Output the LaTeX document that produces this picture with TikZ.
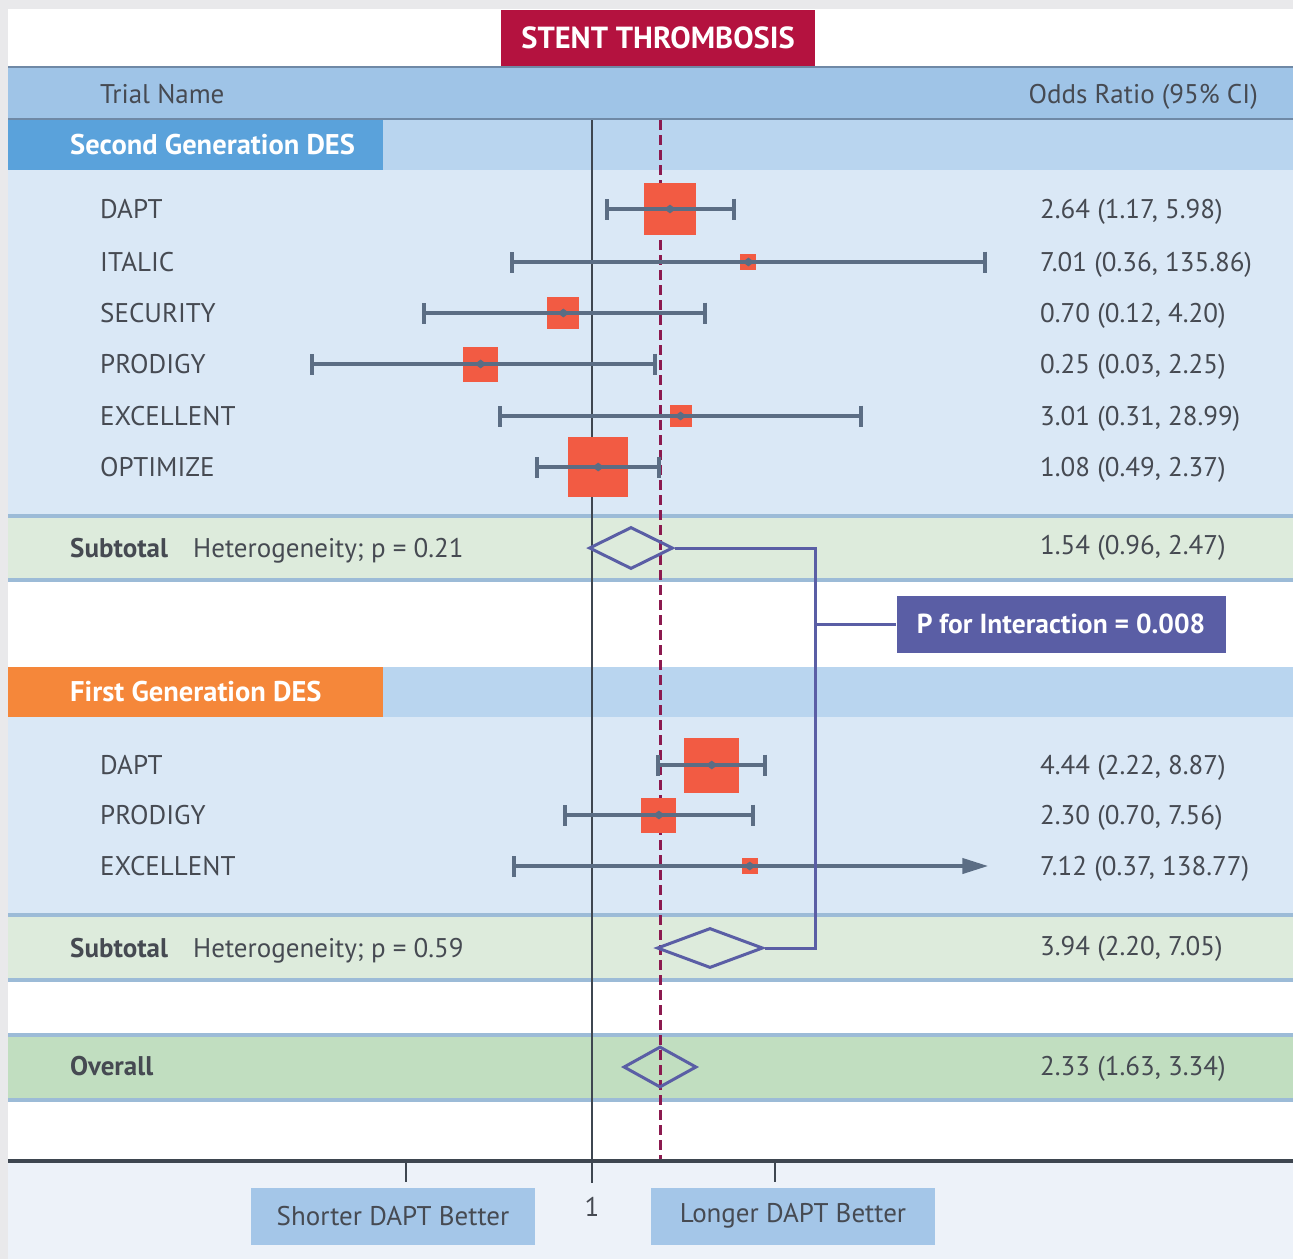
\documentclass[tikz,border=0pt]{standalone}
\usepackage{fontspec}
\setmainfont{PT Sans}
\setsansfont{PT Sans}
\usetikzlibrary{arrows.meta,positioning,calc,shapes.geometric}
\definecolor{framegray}{HTML}{E9E9EB}
\definecolor{titlered}{HTML}{B4123F}
\definecolor{hdrblue}{HTML}{9FC4E7}
\definecolor{hdrline}{HTML}{6F89A6}
\definecolor{secband}{HTML}{B9D5EF}
\definecolor{secblue}{HTML}{5AA2DB}
\definecolor{secorange}{HTML}{F5873A}
\definecolor{rowblue}{HTML}{DAE8F6}
\definecolor{subgreen}{HTML}{DDEBDC}
\definecolor{overgreen}{HTML}{C1DEC0}
\definecolor{bandline}{HTML}{9CBBD7}
\definecolor{footblue}{HTML}{EDF2F9}
\definecolor{footbox}{HTML}{A4C6E8}
\definecolor{inkgray}{HTML}{464A52}
\definecolor{cigray}{HTML}{5B6D84}
\definecolor{markred}{HTML}{F25B43}
\definecolor{sumviolet}{HTML}{5A5EA5}
\definecolor{refline}{HTML}{3E4650}
\definecolor{dashred}{HTML}{8C1A4F}

\begin{document}
\begin{tikzpicture}[
  x=1pt, y=-1pt,
  font=\fontsize{27}{31}\selectfont,
  txt/.style   = {inner sep=0pt, text height=0.7em, text depth=0pt, text=inkgray, yshift=-6pt},
  trial/.style = {txt, anchor=west},
  val/.style   = {txt, anchor=west},
  seclbl/.style= {txt, anchor=west, text=white, font=\fontsize{28.5}{32}\selectfont\bfseries},
  sublbl/.style= {txt, anchor=west, font=\fontsize{27}{31}\selectfont\bfseries},
  title/.style = {fill=titlered, text=white, minimum width=314, minimum height=56,
                  inner sep=0pt, font=\fontsize{30.5}{33}\selectfont\bfseries},
  pbox/.style  = {fill=sumviolet, text=white, minimum width=329, minimum height=57,
                  inner sep=0pt, font=\fontsize{27.5}{31}\selectfont\bfseries},
  fbox/.style  = {fill=footbox, text=inkgray, minimum width=284, minimum height=57,
                  inner sep=0pt},
  sq/.style    = {fill=markred, inner sep=0pt},
  dot/.style   = {diamond, fill=cigray, inner sep=0pt, minimum width=12, minimum height=9},
  dmd/.style   = {diamond, draw=sumviolet, line width=3, inner sep=0pt},
  ci/.style    = {draw=cigray, line width=4, {Bar[width=21]}-{Bar[width=21]}},
  ciopen/.style= {draw=cigray, line width=4, {Bar[width=21]}-{Triangle[length=26,width=15]}},
  brk/.style   = {draw=sumviolet, line width=3},
  bline/.style = {draw=bandline, line width=4},
  hline/.style = {draw=hdrline, line width=2.5},
]
\useasboundingbox (0,0) rectangle (1293,1259);

% --- frame and bands -----------------------------------------------------------------------------
\fill[framegray] (0,0) rectangle (1293,1259);
\fill[white] (8,9) rectangle (1293,1161);
\fill[hdrblue] (8,67) rectangle (1293,119);
\draw[hline] (8,67) -- (1293,67);
\draw[hline] (8,119) -- (1293,119);

\fill[secband] (8,120) rectangle (1293,170);
\fill[secblue] (8,120) rectangle (383,170);
\fill[rowblue] (8,170) rectangle (1293,516);
\fill[subgreen] (8,516) rectangle (1293,580);
\draw[bline] (8,516) -- (1293,516);
\draw[bline] (8,580) -- (1293,580);

\fill[secband] (8,667) rectangle (1293,717);
\fill[secorange] (8,667) rectangle (383,717);
\fill[rowblue] (8,717) rectangle (1293,915);
\fill[subgreen] (8,915) rectangle (1293,980);
\draw[bline] (8,915) -- (1293,915);
\draw[bline] (8,980) -- (1293,980);

\fill[overgreen] (8,1035) rectangle (1293,1100);
\draw[bline] (8,1035) -- (1293,1035);
\draw[bline] (8,1100) -- (1293,1100);

\fill[footblue] (8,1161) rectangle (1293,1259);

% --- title and headers ---------------------------------------------------------------------------
\node[title] (ttl) at (658,38) {STENT THROMBOSIS};
\node[trial] (hname) at (100,94) {Trial Name};
\node[txt, anchor=east] (hor) at (1258,94) {Odds Ratio (95\% CI)};
\node[seclbl] (sec2) at (70,145) {Second Generation DES};
\node[seclbl] (sec1) at (70,692) {First Generation DES};

% --- reference lines and axis --------------------------------------------------------------------
\draw[refline, line width=2.5] (592,120) -- (592,1183);
\draw[dashred, line width=3, dash pattern=on 10 off 5] (660,120) -- (660,1160);
\draw[refline, line width=3.5] (8,1161) -- (1293,1161);
\foreach \tx in {406,775}
  \draw[refline, line width=2] (\tx,1161) -- (\tx,1182);

% --- trials --------------------------------------------------------------------------------------
\foreach \i/\trialname/\y/\est/\lo/\hi/\sz/\sty in {
    1/DAPT/209/2.64/1.17/5.98/52/ci,
    2/ITALIC/262/7.01/0.36/135.86/16/ci,
    3/SECURITY/313/0.70/0.12/4.20/32/ci,
    4/PRODIGY/364/0.25/0.03/2.25/35/ci,
    5/EXCELLENT/416/3.01/0.31/28.99/22/ci,
    6/OPTIMIZE/467/1.08/0.49/2.37/60/ci,
    7/DAPT/765/4.44/2.22/8.87/55/ci,
    8/PRODIGY/815/2.30/0.70/7.56/35/ci,
    9/EXCELLENT/866/7.12/0.37/138.77/16/ciopen}{
  \pgfmathsetmacro\xe{592+185*log10(\est)}
  \pgfmathsetmacro\xl{592+185*log10(\lo)}
  \pgfmathsetmacro\xh{592+185*log10(\hi)}
  \node[trial] (t\i) at (100,\y) {\trialname};
  \node[val] (v\i) at (1040,\y) {\est\ (\lo, \hi)};
  \node[sq, minimum size=\sz] (m\i) at (\xe,\y) {};
  \coordinate (lo\i) at (\xl,\y);
  \coordinate (hi\i) at (\xh,\y);
  \draw[\sty] (lo\i) -- (hi\i);
  \node[dot] at (m\i) {};
}

% --- subtotals and overall -----------------------------------------------------------------------
\node[sublbl] (s2lbl) at (70,548) {Subtotal};
\node[trial] (s2het) at (193,548) {Heterogeneity; p = 0.21};
\node[val] (s2val) at (1040,545) {1.54 (0.96, 2.47)};
\node[dmd, minimum width=84, minimum height=42] (d2) at (631,548) {};

\node[sublbl] (s1lbl) at (70,948) {Subtotal};
\node[trial] (s1het) at (193,948) {Heterogeneity; p = 0.59};
\node[val] (s1val) at (1040,946) {3.94 (2.20, 7.05)};
\node[dmd, minimum width=106, minimum height=40] (d1) at (710,948) {};

\node[sublbl] (ovlbl) at (70,1066) {Overall};
\node[val] (ovval) at (1040,1066) {2.33 (1.63, 3.34)};
\node[dmd, minimum width=73, minimum height=41] (dov) at (660,1067) {};

% --- interaction bracket -------------------------------------------------------------------------
\coordinate (brk) at (815,624);
\node[pbox] (pint) at (1061,624) {P for Interaction = 0.008};
\draw[brk] (d2.east) -- (d2.east -| brk) -- (d1.east -| brk) -- (d1.east);
\draw[brk] (brk) -- (pint.west);

% --- footer --------------------------------------------------------------------------------------
\node[fbox] (short) at (393,1216) {Shorter DAPT Better};
\node[fbox] (long) at (793,1216) {Longer DAPT Better};
\node[txt] (one) at (592,1207) {1};

\end{tikzpicture}
\end{document}
